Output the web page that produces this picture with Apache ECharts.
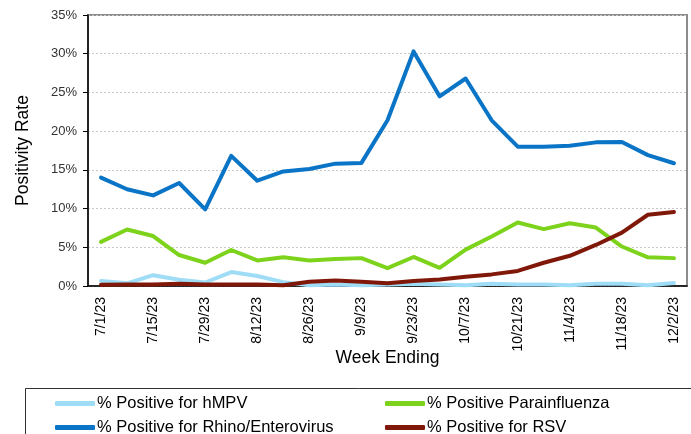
<!DOCTYPE html>
<html>
<head>
<meta charset="utf-8">
<script src="https://cdn.jsdelivr.net/npm/echarts@6/dist/echarts.min.js"></script>
<style>
  html, body { margin: 0; padding: 0; background: #fff; }
  #chart { width: 691px; height: 434px; }
</style>
</head>
<body>
<div id="chart"></div>
<script>
// week ending dates (weekly)
const weeks = ['7/1/23', '7/8/23', '7/15/23', '7/22/23', '7/29/23', '8/5/23', '8/12/23', '8/19/23',
  '8/26/23', '9/2/23', '9/9/23', '9/16/23', '9/23/23', '9/30/23', '10/7/23', '10/14/23',
  '10/21/23', '10/28/23', '11/4/23', '11/11/23', '11/18/23', '11/25/23', '12/2/23']

const hmpv = [0.65, 0.35, 1.4, 0.8, 0.45, 1.8, 1.3, 0.5, 0.1, 0.2, 0.1, 0.2, 0.3, 0.2, 0.1, 0.3,
  0.2, 0.2, 0.1, 0.3, 0.3, 0.1, 0.4]
const para = [5.7, 7.3, 6.45, 4.0, 3.0, 4.65, 3.3, 3.7, 3.3, 3.5, 3.6, 2.3, 3.75, 2.35, 4.7, 6.4,
  8.2, 7.35, 8.1, 7.55, 5.1, 3.7, 3.6]
const rhino = [14.0, 12.5, 11.7, 13.3, 9.9, 16.8, 13.6, 14.8, 15.1, 15.8, 15.9, 21.4, 30.3, 24.5,
  26.8, 21.4, 18.0, 18.0, 18.1, 18.55, 18.6, 16.9, 15.85]
const rsv = [0.15, 0.2, 0.2, 0.3, 0.2, 0.2, 0.2, 0.1, 0.55, 0.7, 0.55, 0.35, 0.65, 0.85, 1.2, 1.5,
  1.95, 3.0, 3.9, 5.3, 6.9, 9.2, 9.55]

const colors = ['#9fdcf6', '#7dd31b', '#0a74c6', '#80180a']
const names = ['% Positive for hMPV', '% Positive Parainfluenza', '% Positive for Rhino/Enterovirus', '% Positive for RSV']
const font = 'Liberation Sans, Arial, sans-serif'

const chart = echarts.init(document.getElementById('chart'))

function legendAt (name, left, top) {
  return {
    data: [name],
    left: left,
    top: top,
    itemWidth: 40,
    itemHeight: 5,
    icon: 'roundRect',
    selectedMode: false,
    textStyle: { fontFamily: font, fontSize: 16.5, color: '#000', padding: [0, 0, 0, -3] }
  }
}

chart.setOption({
  animation: false,
  color: colors,
  grid: {
    left: 88,
    right: 4,
    top: 15,
    bottom: 148,
    show: true,
    borderColor: '#8c8c8c',
    borderWidth: 2
  },
  legend: [
    legendAt(names[0], 50, 390),
    legendAt(names[1], 380, 390),
    legendAt(names[2], 50, 414),
    legendAt(names[3], 380, 414)
  ],
  graphic: [{
    type: 'rect',
    shape: { x: 25.5, y: 388.5, width: 700, height: 60 },
    style: { fill: 'none', stroke: '#333', lineWidth: 1 }
  }],
  xAxis: {
    type: 'category',
    data: weeks,
    boundaryGap: true,
    name: 'Week Ending',
    nameLocation: 'middle',
    nameGap: 63,
    nameMoveOverlap: false,
    nameTextStyle: { fontFamily: font, fontSize: 17.5, color: '#000' },
    axisLine: { lineStyle: { color: '#000', width: 1.5 } },
    axisTick: { interval: 1, length: 5, lineStyle: { color: '#000' } },
    axisLabel: {
      interval: 1,
      rotate: 90,
      margin: 11,
      fontFamily: font,
      fontSize: 14,
      color: '#000'
    }
  },
  yAxis: {
    type: 'value',
    min: 0,
    max: 35,
    interval: 5,
    name: 'Positivity Rate',
    nameLocation: 'middle',
    nameRotate: 90,
    nameGap: 56,
    nameTextStyle: { fontFamily: font, fontSize: 17.5, color: '#000' },
    axisLine: { show: true, lineStyle: { color: '#000', width: 1.5 } },
    axisTick: { show: true, length: 5, lineStyle: { color: '#000' } },
    axisLabel: {
      formatter: '{value}%',
      fontFamily: font,
      fontSize: 13,
      color: '#333',
      margin: 11
    },
    splitLine: { lineStyle: { color: '#c8c8c8', type: [2, 2], width: 1 } }
  },
  series: [
    { name: names[0], type: 'line', data: hmpv },
    { name: names[1], type: 'line', data: para },
    { name: names[2], type: 'line', data: rhino },
    { name: names[3], type: 'line', data: rsv }
  ].map(s => Object.assign(s, {
    symbol: 'none',
    lineStyle: { width: 4, cap: 'round', join: 'round' }
  }))
})
</script>
</body>
</html>
